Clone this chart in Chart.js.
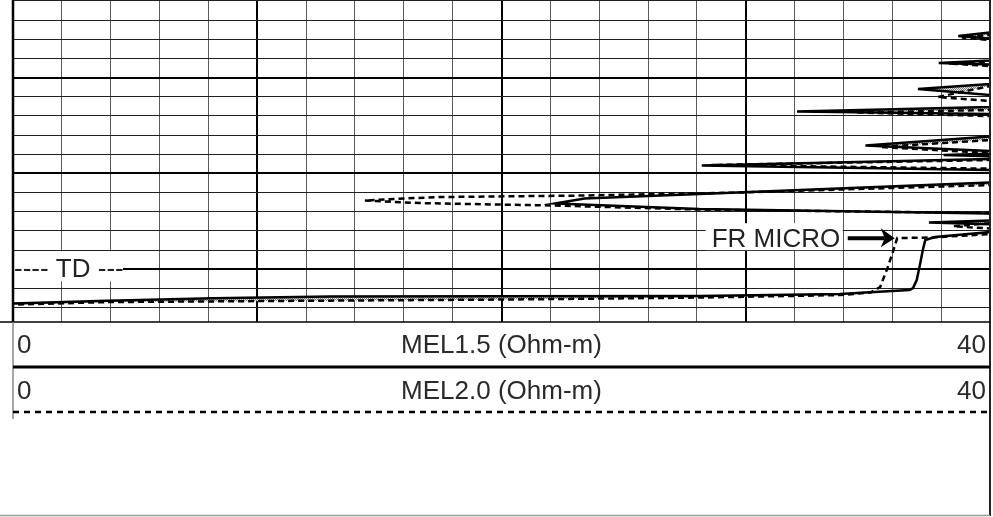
<!DOCTYPE html>
<html>
<head>
<meta charset="utf-8">
<script src="https://cdn.jsdelivr.net/npm/chart.js@4"></script>
<style>
  html, body { margin: 0; padding: 0; background: #fff; }
  canvas { display: block; }
</style>
</head>
<body>
<canvas id="logChart" width="993" height="517"></canvas>
<script>
// MEL1.5 (solid) and MEL2.0 (dashed) microlog, depth in ft, 0-40 Ohm-m scale
// values above 40 are off scale to the right
const mel15Depth = [4990.0, 4995.3, 4995.66, 4995.92, 4997.0, 4998.22, 4998.48, 4998.63, 4999.5,
  5000.67, 5001.19, 5001.82, 5002.4, 5003.07, 5003.54, 5003.8, 5005.0, 5006.15, 5007.09, 5007.66,
  5007.8, 5007.95, 5008.08, 5008.2, 5008.35, 5008.5, 5009.18, 5009.65, 5010.3, 5010.95, 5012.15,
  5012.62, 5013.14, 5013.72, 5014.19, 5014.55, 5014.9, 5015.13, 5015.3, 5015.7, 5016.12, 5016.64,
  5016.95, 5017.99, 5019.56, 5021.13, 5021.96, 5022.17, 5022.59, 5022.78, 5022.81, 5022.85,
  5023.01, 5023.27, 5023.58, 5023.7];
const mel15 = [45, 40, 38.7, 40, 45, 40, 37.9, 40, 45,
  40, 37.05, 40, 45, 40, 32.1, 40, 45, 40, 34.9, 40,
  40.6, 40, 38.1, 40, 45, 40, 28.2, 40, 45, 40, 28.1,
  23.4, 22.2, 28.1, 40, 45, 40, 37.5, 40, 45, 40, 37.75,
  37.35, 37.25, 37.13, 37.0, 36.85, 36.7, 33.85, 28.1, 19.95, 13.0,
  8.2, 3.85, 0, -1];

const mel20Depth = [4990.0, 4995.55, 4995.81, 4996.08, 4997.2, 4998.32, 4998.53, 4998.79, 4999.7,
  5000.88, 5002.03, 5002.44, 5002.7, 5003.38, 5003.64, 5004.01, 5005.2, 5006.51, 5007.24, 5007.87,
  5008.1, 5008.6, 5009.12, 5009.5, 5010.3, 5011.21, 5011.99, 5012.31, 5012.46, 5012.62, 5012.83,
  5013.09, 5013.35, 5013.77, 5014.13, 5014.5, 5015.2, 5015.5, 5015.75, 5016.0, 5016.33, 5016.69,
  5016.74, 5017.99, 5019.88, 5021.86, 5022.43, 5022.69, 5022.95, 5023.16, 5023.27, 5023.42,
  5023.69, 5023.8];
const mel20 = [45, 40, 38.85, 40, 45, 40, 38.3, 40, 45,
  40, 37.85, 40, 45, 40, 34.5, 40, 45, 40, 35.5, 40,
  45, 40, 28.6, 40, 45, 40, 29.75, 23.2, 17.5, 16.0, 14.4,
  16.65, 22.2, 28.1, 40, 45, 40, 38.5, 40, 45, 40, 37.55,
  36.2, 36.05, 35.8, 35.5, 35.1, 33.85, 28.1, 19.95, 13.0, 3.85,
  0, -1];

const valueTicks = [0, 2, 4, 6, 8, 10, 12, 14, 16, 18, 20, 22, 24, 26, 28, 30, 32, 34, 36, 38, 40];
const depthTicks = [4992, 4994, 4996, 4998, 5000, 5002, 5004, 5006, 5008, 5010, 5012, 5014,
  5016, 5018, 5020, 5022, 5024];
const curveNames = ['MEL1.5 (Ohm-m)', 'MEL2.0 (Ohm-m)'];
const scaleLeft = 0, scaleRight = 40;
const tdDepth = 5020;
const frMicroDepth = 5016.75, frMicroValue = 36.1;

const FONT = '26px "Liberation Sans", Arial, sans-serif';

function zip(depths, values) {
  return depths.map((d, i) => ({ x: values[i], y: d }));
}

function stipple(ctx) {
  const c = document.createElement('canvas');
  c.width = 2; c.height = 2;
  const g = c.getContext('2d');
  g.fillStyle = '#e6e6e6'; g.fillRect(0, 0, 2, 2);
  g.fillStyle = '#7c7c7c'; g.fillRect(0, 0, 1, 1); g.fillRect(1, 1, 1, 1);
  return ctx.createPattern(c, 'repeat');
}

const logDecor = {
  id: 'logDecor',
  beforeDatasetsDraw(chart) {
    // shade where MEL2.0 reads higher than MEL1.5
    const { ctx, chartArea: a } = chart;
    const s = chart.getDatasetMeta(0).data;
    const d = chart.getDatasetMeta(1).data;
    ctx.save();
    ctx.beginPath();
    ctx.rect(a.left, a.top, a.right - a.left, a.bottom - a.top);
    ctx.clip();
    ctx.beginPath();
    ctx.moveTo(a.right + 600, s[0].y);
    s.forEach(p => ctx.lineTo(p.x, p.y));
    ctx.lineTo(a.right + 600, s[s.length - 1].y);
    ctx.closePath();
    ctx.clip();
    ctx.beginPath();
    s.forEach((p, i) => i ? ctx.lineTo(p.x, p.y) : ctx.moveTo(p.x, p.y));
    for (let i = d.length - 1; i >= 0; i--) ctx.lineTo(d[i].x, d[i].y);
    ctx.closePath();
    ctx.fillStyle = stipple(ctx);
    ctx.fill('evenodd');
    ctx.restore();
  },
  afterDatasetsDraw(chart) {
    const { ctx, chartArea: a, scales: { x, y } } = chart;
    ctx.save();
    ctx.font = FONT;
    ctx.textBaseline = 'alphabetic';

    // TD marker
    const ty = y.getPixelForValue(tdDepth);
    ctx.fillStyle = '#fff';
    ctx.fillRect(a.left + 1, ty - 18, 109, 30);
    ctx.fillStyle = '#222';
    ctx.textAlign = 'left';
    ctx.fillText('---- TD ---', a.left + 1, ty + 8);

    // FR MICRO label + arrow
    const ay = y.getPixelForValue(frMicroDepth);
    const ax = x.getPixelForValue(frMicroValue);
    ctx.fillStyle = '#fff';
    ctx.fillRect(ax - 189, ay - 15, 137, 27);
    ctx.fillStyle = '#222';
    ctx.fillText('FR MICRO', ax - 183, ay + 9);
    ctx.strokeStyle = '#000';
    ctx.lineWidth = 4;
    ctx.beginPath();
    ctx.moveTo(ax - 47, ay);
    ctx.lineTo(ax - 10, ay);
    ctx.stroke();
    ctx.fillStyle = '#000';
    ctx.beginPath();
    ctx.moveTo(ax, ay);
    ctx.lineTo(ax - 14, ay - 10);
    ctx.lineTo(ax - 10, ay);
    ctx.lineTo(ax - 14, ay + 9);
    ctx.closePath();
    ctx.fill();
    ctx.restore();
  },
  afterDraw(chart) {
    const { ctx, chartArea: a, height } = chart;
    const row = 45;
    ctx.save();
    ctx.strokeStyle = '#000';
    // track borders
    ctx.lineWidth = 2.5;
    ctx.beginPath(); ctx.moveTo(a.left, 0); ctx.lineTo(a.left, a.bottom); ctx.stroke();
    ctx.lineWidth = 2;
    ctx.strokeStyle = '#222';
    ctx.beginPath(); ctx.moveTo(a.right, 0); ctx.lineTo(a.right, height - 1); ctx.stroke();
    ctx.strokeStyle = '#000';
    ctx.lineWidth = 1.5;
    ctx.beginPath(); ctx.moveTo(0, a.bottom); ctx.lineTo(a.right, a.bottom); ctx.stroke();
    ctx.strokeStyle = '#888';
    ctx.beginPath(); ctx.moveTo(a.left, a.bottom); ctx.lineTo(a.left, a.bottom + 2 * row + 7); ctx.stroke();
    ctx.strokeStyle = '#999';
    ctx.beginPath(); ctx.moveTo(0, height - 1.5); ctx.lineTo(a.right, height - 1.5); ctx.stroke();

    // header rows
    ctx.strokeStyle = '#000';
    ctx.lineWidth = 3;
    ctx.beginPath(); ctx.moveTo(a.left, a.bottom + row); ctx.lineTo(a.right, a.bottom + row); ctx.stroke();
    ctx.lineWidth = 2.5;
    ctx.setLineDash([6, 5]);
    ctx.beginPath(); ctx.moveTo(a.left, a.bottom + 2 * row); ctx.lineTo(a.right, a.bottom + 2 * row); ctx.stroke();
    ctx.setLineDash([]);

    ctx.font = FONT;
    ctx.fillStyle = '#2a2a2a';
    curveNames.forEach((name, i) => {
      const base = a.bottom + 31 + i * 46;
      ctx.textAlign = 'left';
      ctx.fillText(String(scaleLeft), a.left + 4, base);
      ctx.textAlign = 'center';
      ctx.fillText(name, (a.left + a.right) / 2, base);
      ctx.textAlign = 'right';
      ctx.fillText(String(scaleRight), a.right - 4, base);
    });
    ctx.restore();
  }
};

const isMajor = v => Math.abs(v % 10) < 1e-6;

new Chart(document.getElementById('logChart'), {
  type: 'scatter',
  data: {
    datasets: [
      {
        label: curveNames[0],
        data: zip(mel15Depth, mel15),
        showLine: true,
        borderColor: '#000',
        borderWidth: 2.5,
        pointRadius: 0,
        tension: 0,
        clip: 0
      },
      {
        label: curveNames[1],
        data: zip(mel20Depth, mel20),
        showLine: true,
        borderColor: '#000',
        borderWidth: 2.5,
        borderDash: [6, 4],
        pointRadius: 0,
        tension: 0,
        clip: 0
      }
    ]
  },
  options: {
    responsive: false,
    animation: false,
    events: [],
    layout: { padding: { left: 13, right: 3, top: 0, bottom: 195 } },
    plugins: {
      legend: { display: false },
      tooltip: { enabled: false }
    },
    scales: {
      x: {
        type: 'linear',
        min: scaleLeft,
        max: scaleRight,
        afterBuildTicks: s => { s.ticks = valueTicks.map(v => ({ value: v })); },
        ticks: { display: false },
        border: { display: false },
        grid: {
          drawTicks: false,
          color: c => isMajor(c.tick.value) ? '#000' : '#5a5a5a',
          lineWidth: c => isMajor(c.tick.value) ? 2 : 1
        }
      },
      y: {
        type: 'linear',
        reverse: true,
        min: 4991.9,
        max: 5025.5,
        afterBuildTicks: s => { s.ticks = depthTicks.map(v => ({ value: v })); },
        ticks: { display: false },
        border: { display: false },
        grid: {
          drawTicks: false,
          color: c => isMajor(c.tick.value) ? '#000' : '#1e1e1e',
          lineWidth: c => isMajor(c.tick.value) ? 2 : 1
        }
      }
    }
  },
  plugins: [logDecor]
});
</script>
</body>
</html>
